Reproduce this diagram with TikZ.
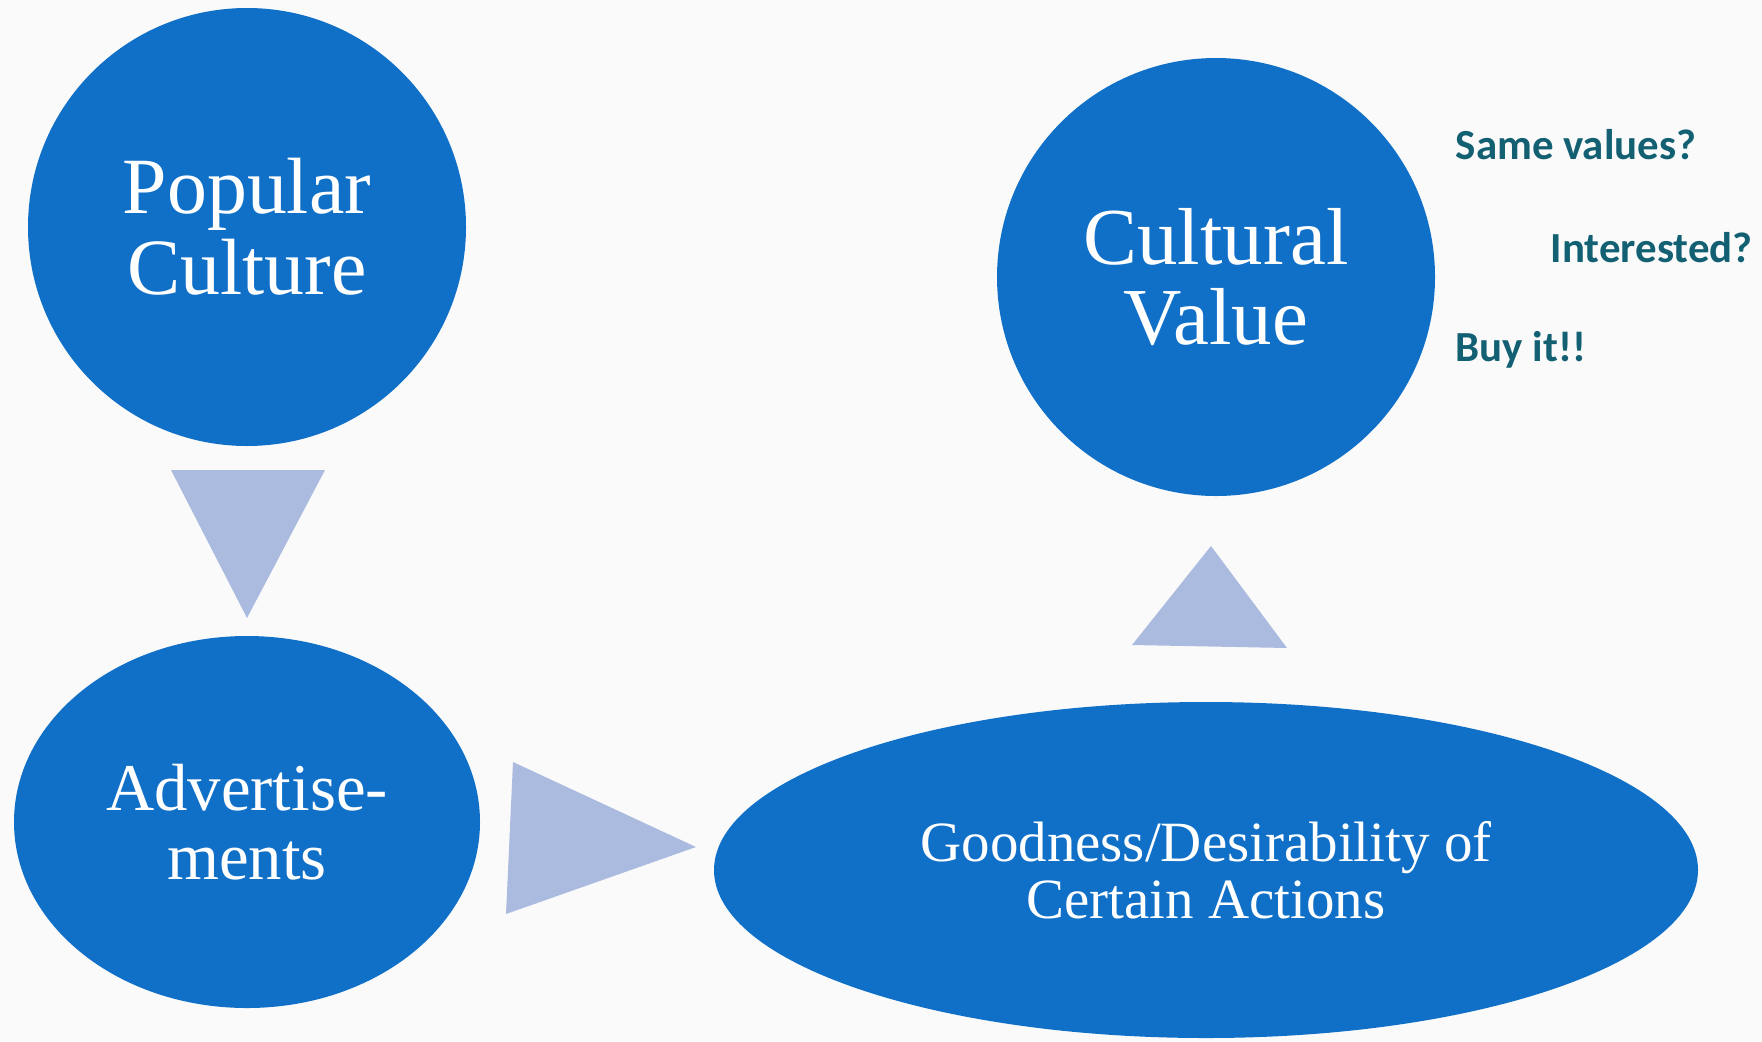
\documentclass[tikz,border=0pt]{standalone}
\usepackage{fontspec}
\setmainfont{Liberation Serif}
\newfontfamily\notefont{Carlito}
\usetikzlibrary{calc,positioning,shapes.geometric}

\definecolor{bubble}{RGB}{16,112,200}
\definecolor{pointer}{RGB}{171,187,224}
\definecolor{notecol}{RGB}{18,96,114}
\definecolor{paper}{RGB}{250,250,250}

\tikzset{
  bubble/.style={circle,fill=bubble,text=white,align=center,inner sep=0pt,minimum size=4.38cm},
  oval/.style={ellipse,fill=bubble,text=white,align=center,inner sep=0pt},
  pointer/.style={fill=pointer,draw=none},
  note/.style={anchor=west,text=notecol,font=\notefont\bfseries\fontsize{12.2}{14}\selectfont,inner sep=0pt}
}

\begin{document}
\begin{tikzpicture}
  \fill[paper] (0,0) rectangle (17.62,10.41);
  \useasboundingbox (0,0) rectangle (17.62,10.41);

  % circles and ovals
  \node[bubble,font=\fontsize{22.7}{23}\selectfont] (pop) at (2.47,8.14) {Popular\\Culture};
  \node[oval,minimum width=4.66cm,minimum height=3.72cm,font=\fontsize{19}{19.5}\selectfont] (adv) at (2.47,2.19) {Advertise-\\ments};
  \node[oval,minimum width=9.84cm,minimum height=3.36cm,font=\fontsize{16.2}{16.2}\selectfont] (good) at (12.06,1.71) {Goodness/Desirability of\\Certain Actions};
  \node[bubble,font=\fontsize{23}{22.6}\selectfont] (val) at (12.16,7.64) {Cultural\\Value};

  % pointers between them
  \path[pointer] (1.71,5.71) -- (3.25,5.71) -- (2.47,4.23) -- cycle;
  \path[pointer] (5.13,2.79) -- (5.06,1.27) -- (6.96,1.94) -- cycle;
  \path[pointer] (12.11,4.95) -- (11.32,3.96) -- (12.87,3.93) -- cycle;

  % questions
  \node[note] (same) at (14.55,8.96) {Same values?};
  \node[note] (inter) at (15.50,7.93) {Interested?};
  \node[note] (buy) at (14.55,6.91) {Buy it!!};
\end{tikzpicture}
\end{document}
